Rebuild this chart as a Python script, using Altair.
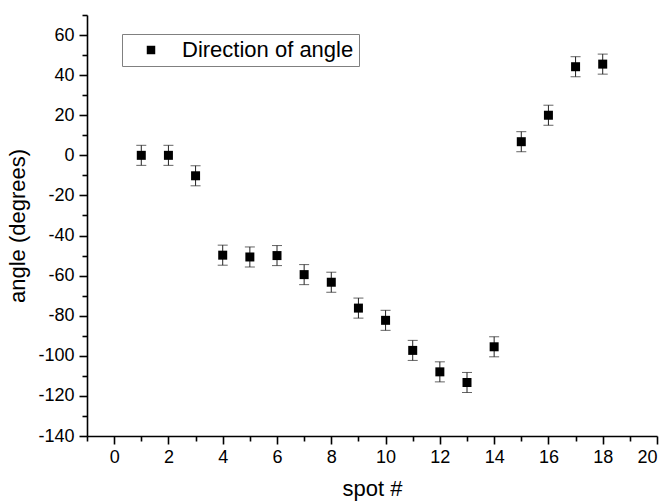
import altair as alt
import pandas as pd

# measured spot angles with their uncertainties
spot = [1, 2, 3, 4, 5, 6, 7, 8, 9, 10, 11, 12, 13, 14, 15, 16, 17, 18]
angle = [0.0, 0.0, -10.2, -49.8, -50.7, -50.0, -59.5, -63.3, -76.2, -82.3,
         -97.3, -108.0, -113.3, -95.5, 6.8, 20.0, 44.2, 45.5]
err = [5, 5, 5, 5, 5, 5, 5, 5, 5, 5, 5, 5, 5, 5, 5, 5, 5, 5]
series_name = "Direction of angle"

x_major = [0, 2, 4, 6, 8, 10, 12, 14, 16, 18, 20]
x_minor = [-1, 1, 3, 5, 7, 9, 11, 13, 15, 17, 19]
y_major = [-140, -120, -100, -80, -60, -40, -20, 0, 20, 40, 60]
y_minor = [-130, -110, -90, -70, -50, -30, -10, 10, 30, 50, 70]

df = pd.DataFrame({"spot": spot, "angle": angle, "err": err})
df["lo"] = df["angle"] - df["err"]
df["hi"] = df["angle"] + df["err"]
df["series"] = series_name

FONT = "Liberation Sans"
PLAIN = "toString(datum.value)"  # plain hyphen for negative numbers
x_scale = alt.Scale(domain=[-1, 20], nice=False, zero=False)
y_scale = alt.Scale(domain=[-140, 70], nice=False, zero=False)

major_x_axis = alt.Axis(values=x_major, tickSize=8, title="spot #", labelExpr=PLAIN,
                        labelPadding=4, titlePadding=12, orient="bottom")
major_y_axis = alt.Axis(values=y_major, tickSize=8, title="angle (degrees)", labelExpr=PLAIN,
                        labelPadding=5, titlePadding=8, orient="left")
minor_x_axis = alt.Axis(values=x_minor, tickSize=5, labels=False, title=None,
                        domain=False, orient="bottom")
minor_y_axis = alt.Axis(values=y_minor, tickSize=5, labels=False, title=None,
                        domain=False, orient="left")

base = alt.Chart(df)

points = base.mark_point(shape="square", filled=True, size=81, opacity=1).encode(
    x=alt.X("spot:Q", scale=x_scale, axis=major_x_axis),
    y=alt.Y("angle:Q", scale=y_scale, axis=major_y_axis),
    color=alt.Color("series:N", scale=alt.Scale(range=["black"]),
                    legend=alt.Legend(title=None, orient="none", legendX=35, legendY=19,
                                      symbolType="square", symbolSize=72,
                                      symbolOffset=13, labelOffset=20, labelLimit=0,
                                      labelFontSize=22, labelFont=FONT,
                                      labelColor="black", padding=5,
                                      strokeColor="#808080", fillColor="white")),
)

bars = base.mark_rule(color="#222222", strokeWidth=1).encode(
    x=alt.X("spot:Q", scale=x_scale, axis=minor_x_axis),
    y=alt.Y("lo:Q", scale=y_scale, axis=minor_y_axis),
    y2="hi:Q",
)

caps_lo = base.mark_tick(color="#222222", orient="horizontal", size=10, thickness=1).encode(
    x=alt.X("spot:Q", scale=x_scale, axis=None),
    y=alt.Y("lo:Q", scale=y_scale, axis=None),
)
caps_hi = base.mark_tick(color="#222222", orient="horizontal", size=10, thickness=1).encode(
    x=alt.X("spot:Q", scale=x_scale, axis=None),
    y=alt.Y("hi:Q", scale=y_scale, axis=None),
)

chart = alt.layer(bars, caps_lo, caps_hi, points).resolve_axis(
    x="independent", y="independent"
).properties(
    width=570, height=421,
    autosize=alt.AutoSizeParams(type="none"),
    padding={"left": 87, "top": 15, "right": 12, "bottom": 66},
    background="white",
).configure_view(stroke=None).configure_axis(
    grid=False, domainColor="black", domainWidth=1.6, tickColor="black", tickWidth=1.6,
    labelFont=FONT, labelFontSize=18, labelColor="black",
    titleFont=FONT, titleFontSize=22, titleColor="black", titleFontWeight="normal",
)

chart.save("out.html", embed_options={"renderer": "svg", "actions": False})
